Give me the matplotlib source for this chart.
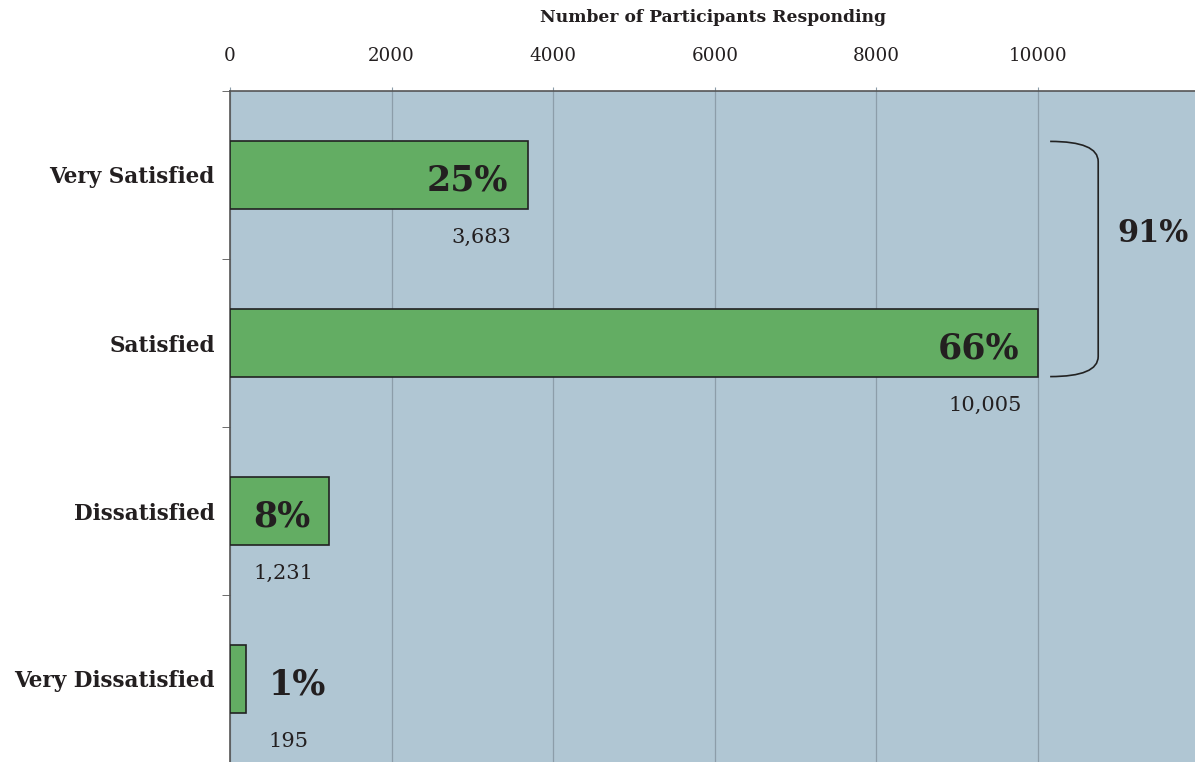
import matplotlib
matplotlib.use("Agg")
import matplotlib.pyplot as plt
from matplotlib.path import Path
from matplotlib.patches import PathPatch
import numpy as np

categories = ["Very Satisfied", "Satisfied", "Dissatisfied", "Very Dissatisfied"]
counts = [3683, 10005, 1231, 195]
percents = ["25%", "66%", "8%", "1%"]
count_labels = ["3,683", "10,005", "1,231", "195"]
xticks = [0, 2000, 4000, 6000, 8000, 10000]
bracket_label = "91%"
xlabel = "Number of Participants Responding"

plt.rcParams['font.family'] = ['DejaVu Serif']
TXT = "#231f20"
BG = "#b0c6d3"
GREEN = "#63ad63"
GRID = "#8c9da9"

fig = plt.figure(figsize=(11.95, 7.62), dpi=100)
ax = fig.add_axes([230/1195, -1/762, 1 - 230/1195, 1 - 90/762])
ax.set_facecolor(BG)

y = np.arange(len(categories))
ax.barh(y, counts, height=0.4, color=GREEN, edgecolor="#222222", linewidth=1.2, zorder=3)

ax.set_xlim(0, 11943)
ax.set_ylim(3.5, -0.5)

ax.xaxis.tick_top()
ax.xaxis.set_label_position("top")
ax.set_xticks(xticks)
ax.set_xticklabels([str(t) for t in xticks], fontsize=13.2, color=TXT)
ax.tick_params(axis="x", length=3, pad=16, color=GRID)
ax.set_xlabel(xlabel, fontsize=12.3, fontweight="bold", color=TXT, labelpad=18)
ax.grid(axis="x", color=GRID, linewidth=0.9, zorder=0)
ax.set_axisbelow(True)

ax.set_yticks(y)
ax.set_yticklabels(categories, fontsize=15.5, fontweight="bold", color=TXT)
ax.tick_params(axis="y", length=0, pad=11)
ax.set_yticks(np.arange(-0.5, 3.6, 1.0), minor=True)
ax.tick_params(axis="y", which="minor", length=6, color="#555555")

for s in ["right", "bottom"]:
    ax.spines[s].set_visible(False)
ax.spines["left"].set_color("#555555")
ax.spines["top"].set_color("#555555")
ax.spines["left"].set_linewidth(1.2)
ax.spines["top"].set_linewidth(1.2)

big = max(counts)
for i, (c, p, cl) in enumerate(zip(counts, percents, count_labels)):
    if c > 0.05 * big:
        ax.text(c - 240, i + 0.03, p, ha="right", va="center", fontsize=25,
                fontweight="bold", color=TXT, zorder=4)
        ax.text(c - 200, i + 0.37, cl, ha="right", va="center", fontsize=15,
                color=TXT, zorder=4)
    else:
        ax.text(c + 280, i + 0.03, p, ha="left", va="center", fontsize=25,
                fontweight="bold", color=TXT, zorder=4)
        ax.text(c + 280, i + 0.37, cl, ha="left", va="center", fontsize=15,
                color=TXT, zorder=4)

# bracket spanning first two bars
x0 = max(counts[0], counts[1]) + 145
x1 = x0 + 595
ytop = 0 - 0.2
ybot = 1 + 0.2
r = 0.12
verts = [(x0, ytop), (x1, ytop), (x1, ytop + r),
         (x1, ybot - r),
         (x1, ybot), (x0, ybot)]
codes = [Path.MOVETO, Path.CURVE3, Path.CURVE3, Path.LINETO, Path.CURVE3, Path.CURVE3]
ax.add_patch(PathPatch(Path(verts, codes), fill=False, edgecolor="#222222",
                       linewidth=1.2, zorder=4, clip_on=False))
ax.text(x1 + 240, 0.35, bracket_label, ha="left", va="center", fontsize=22,
        fontweight="bold", color=TXT)

fig.savefig("out.png", dpi=100, facecolor="white")
